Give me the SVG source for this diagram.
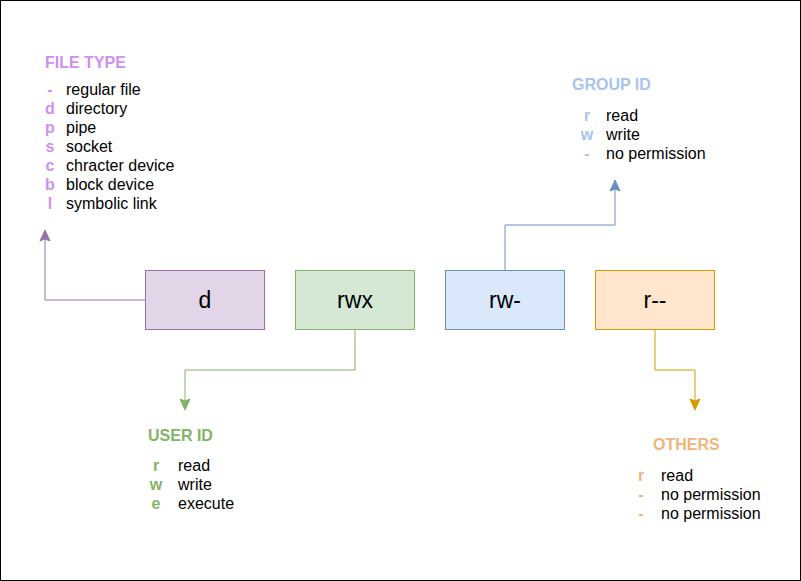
<svg xmlns="http://www.w3.org/2000/svg" width="801" height="581" viewBox="0 0 801 581">
<style>
text{font-family:"Liberation Sans",Arial,sans-serif;}
.lbl{font-size:23px;fill:#000;text-anchor:middle;dominant-baseline:central;}
.t{font-size:16px;font-weight:bold;}
.i{font-size:16px;fill:#000;}
.k{font-size:16px;font-weight:bold;text-anchor:middle;}
.c{fill:none;stroke-width:1;}
</style>
<rect x="0.5" y="0.5" width="800" height="580" fill="#fff" stroke="#000"/>
<g id="connectors">
<path class="c" stroke="#9673a6" d="M145,300 H45 V232"/>
<path d="M45,230 l-5,11 l5,-2 l5,2 z" fill="#9673a6" stroke="#9673a6"/>
<path class="c" stroke="#82b366" d="M355,330 V370 H185 V402"/>
<path d="M185,410 l-5,-11 l5,2 l5,-2 z" fill="#82b366" stroke="#82b366"/>
<path class="c" stroke="#6c8ebf" d="M505,270 V225 H615 V188"/>
<path d="M615,180 l-5,11 l5,-2 l5,2 z" fill="#6c8ebf" stroke="#6c8ebf"/>
<path class="c" stroke="#d79b00" d="M655,330 V370 H695 V402"/>
<path d="M695,410 l-5,-11 l5,2 l5,-2 z" fill="#d79b00" stroke="#d79b00"/>
</g>
<g id="node-d">
<rect x="145.5" y="270.5" width="119" height="59" fill="#e1d5e7" stroke="#9673a6"/>
<text class="lbl" x="205" y="300">d</text>
</g>
<g id="node-rwx">
<rect x="295.5" y="270.5" width="119" height="59" fill="#d5e8d4" stroke="#82b366"/>
<text class="lbl" x="355" y="300">rwx</text>
</g>
<g id="node-rw">
<rect x="445.5" y="270.5" width="119" height="59" fill="#dae8fc" stroke="#6c8ebf"/>
<text class="lbl" x="505" y="300">rw-</text>
</g>
<g id="node-r">
<rect x="595.5" y="270.5" width="119" height="59" fill="#ffe6cc" stroke="#d79b00"/>
<text class="lbl" x="655" y="300">r--</text>
</g>
<g id="file-type">
<text class="t" x="45" y="68" fill="#d08ff0">FILE TYPE</text>
<text class="k" x="50" y="95" fill="#d08ff0">-</text><text class="i" x="66" y="95">regular file</text>
<text class="k" x="50" y="114" fill="#d08ff0">d</text><text class="i" x="66" y="114">directory</text>
<text class="k" x="50" y="133" fill="#d08ff0">p</text><text class="i" x="66" y="133">pipe</text>
<text class="k" x="50" y="152" fill="#d08ff0">s</text><text class="i" x="66" y="152">socket</text>
<text class="k" x="50" y="171" fill="#d08ff0">c</text><text class="i" x="66" y="171">chracter device</text>
<text class="k" x="50" y="190" fill="#d08ff0">b</text><text class="i" x="66" y="190">block device</text>
<text class="k" x="50" y="209" fill="#d08ff0">l</text><text class="i" x="66" y="209">symbolic link</text>
</g>
<g id="group-id">
<text class="t" x="572" y="90" fill="#a9c4eb">GROUP ID</text>
<text class="k" x="587" y="121" fill="#a9c4eb">r</text><text class="i" x="606" y="121">read</text>
<text class="k" x="587" y="140" fill="#a9c4eb">w</text><text class="i" x="606" y="140">write</text>
<text class="k" x="587" y="159" fill="#a9c4eb">-</text><text class="i" x="606" y="159">no permission</text>
</g>
<g id="user-id">
<text class="t" x="148" y="441" fill="#82b366">USER ID</text>
<text class="k" x="156" y="471" fill="#82b366">r</text><text class="i" x="178" y="471">read</text>
<text class="k" x="156" y="490" fill="#82b366">w</text><text class="i" x="178" y="490">write</text>
<text class="k" x="156" y="509" fill="#82b366">e</text><text class="i" x="178" y="509">execute</text>
</g>
<g id="others">
<text class="t" x="653" y="450" fill="#efb57a">OTHERS</text>
<text class="k" x="641" y="481" fill="#efb57a">r</text><text class="i" x="661" y="481">read</text>
<text class="k" x="641" y="500" fill="#efb57a">-</text><text class="i" x="661" y="500">no permission</text>
<text class="k" x="641" y="519" fill="#efb57a">-</text><text class="i" x="661" y="519">no permission</text>
</g>
</svg>
